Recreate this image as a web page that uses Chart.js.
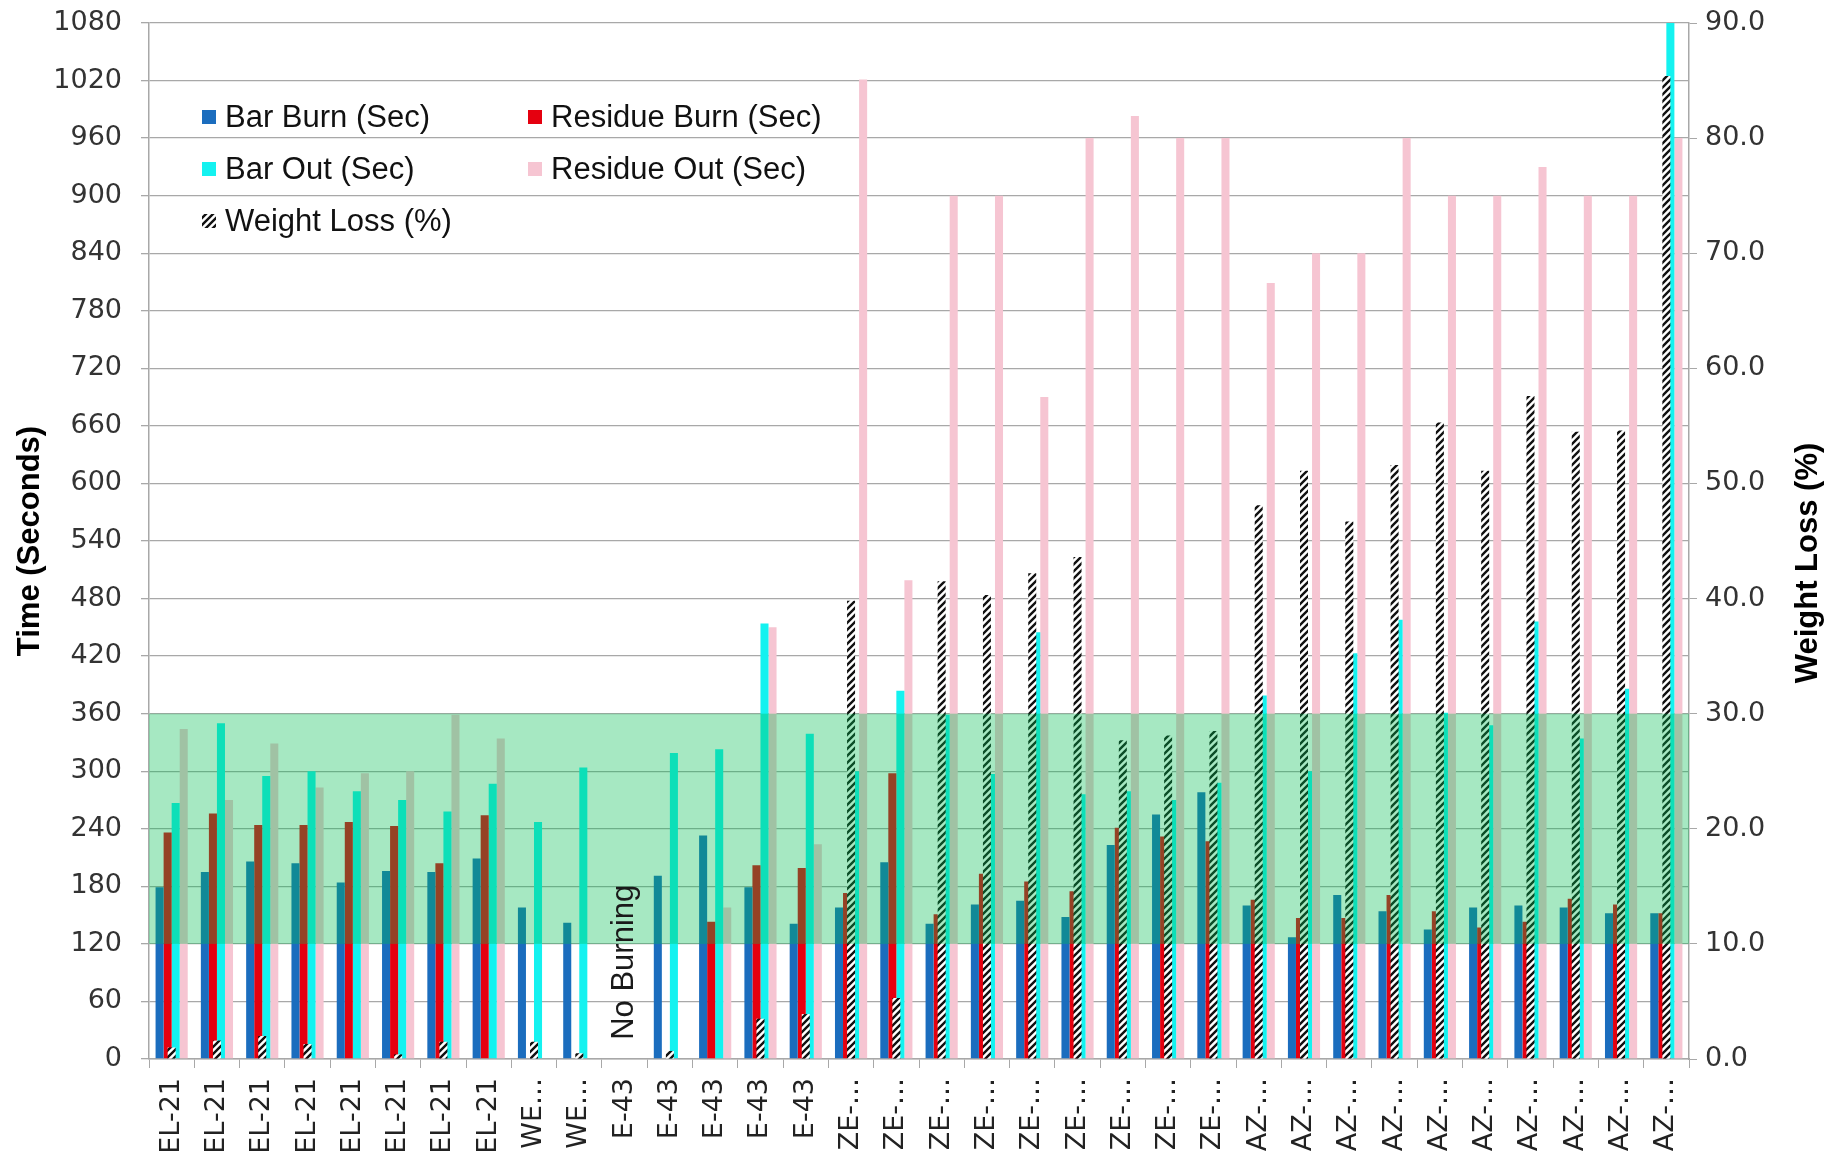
<!DOCTYPE html>
<html>
<head>
<meta charset="utf-8">
<title>Burn and weight loss test</title>
<script src="https://cdn.jsdelivr.net/npm/chart.js@4.4.1/dist/chart.umd.min.js"></script>
<style>
  html, body { margin: 0; padding: 0; background: #ffffff; }
  #wrap { width: 1841px; height: 1157px; }
</style>
</head>
<body>
<div id="wrap"><canvas id="chart" width="1841" height="1157"></canvas></div>
<script>
// Sample names along the category axis
const categories = [
  'EL-21', 'EL-21', 'EL-21', 'EL-21', 'EL-21', 'EL-21', 'EL-21', 'EL-21',
  'WE…', 'WE…',
  'E-43', 'E-43', 'E-43', 'E-43', 'E-43',
  'ZE-…', 'ZE-…', 'ZE-…', 'ZE-…', 'ZE-…', 'ZE-…', 'ZE-…', 'ZE-…', 'ZE-…',
  'AZ-…', 'AZ-…', 'AZ-…', 'AZ-…', 'AZ-…', 'AZ-…', 'AZ-…', 'AZ-…', 'AZ-…', 'AZ-…'
];

// Times in seconds (left axis)
const barBurn = [179, 195, 206, 204, 184, 196, 195, 209, 158, 142, null, 191, 233, 179, 141,
  158, 205, 141, 161, 165, 148, 223, 255, 278,
  160, 127, 171, 154, 135, 158, 160, 158, 152, 152];
const residueBurn = [236, 256, 244, 244, 247, 243, 204, 254, null, null, null, null, 143, 202, 199,
  173, 298, 151, 193, 185, 175, 241, 232, 227,
  166, 147, 147, 171, 154, 137, 143, 167, 161, 152];
const barOut = [267, 350, 295, 300, 279, 270, 258, 287, 247, 304, null, 319, 323, 454, 339,
  300, 384, 359, 297, 445, 276, 279, 270, 288,
  379, 300, 423, 458, 361, 348, 456, 334, 386, 1080];
const residueOut = [344, 270, 329, 283, 298, 300, 359, 334, null, null, null, null, 158, 450, 224,
  1021, 499, 900, 900, 690, 960, 983, 960, 960,
  809, 840, 840, 960, 900, 900, 930, 900, 900, 960];

// Weight loss in percent (right axis)
const weightLoss = [1.0, 1.6, 2.0, 1.3, 0, 0.4, 1.5, 0, 1.5, 0.5, null, 0.7, 0, 3.5, 3.9,
  39.8, 5.3, 41.5, 40.3, 42.2, 43.6, 27.7, 28.1, 28.5,
  48.1, 51.1, 46.7, 51.6, 55.3, 51.1, 57.6, 54.5, 54.6, 85.4];

// Axis ranges and tick steps
const timeAxis = { min: 0, max: 1080, step: 60 };
const lossAxis = { min: 0, max: 90, step: 10 };

// Acceptable time window shaded across the plot (seconds)
const bandLow = 120;
const bandHigh = 360;

// Note for the sample that did not ignite
const noteText = 'No Burning';
const noteIndex = 10;
const noteStart = 20;

const seriesNames = ['Bar Burn (Sec)', 'Residue Burn (Sec)', 'Bar Out (Sec)', 'Residue Out (Sec)', 'Weight Loss (%)'];

// Diagonal black/white hatch used for the weight-loss bars
function makeHatch() {
  const s = 7;
  const c = document.createElement('canvas');
  c.width = s; c.height = s;
  const g = c.getContext('2d');
  g.fillStyle = '#ffffff';
  g.fillRect(0, 0, s, s);
  g.strokeStyle = '#111111';
  g.lineWidth = 2.4;
  g.lineCap = 'square';
  g.beginPath();
  g.moveTo(-2, s + 2); g.lineTo(s + 2, -2);
  g.moveTo(-2, 2); g.lineTo(2, -2);
  g.moveTo(s - 2, s + 2); g.lineTo(s + 2, s - 2);
  g.stroke();
  return g.createPattern(c, 'repeat');
}
const hatch = makeHatch();

const colors = ['#1B6DBE', '#E5000F', '#14F2F0', '#F6C5D2', hatch];

const tickFont = { family: 'DejaVu Sans', size: 27 };
const titleFont = { family: 'Liberation Sans', size: 31, weight: 'bold' };

// Shaded time window drawn over the bars, plus the rotated note
const overlayPlugin = {
  id: 'overlay',
  afterDatasetsDraw(chart) {
    const { ctx, chartArea, scales } = chart;
    const y = scales.y;
    const top = y.getPixelForValue(bandHigh);
    const bottom = y.getPixelForValue(bandLow);
    ctx.save();
    ctx.fillStyle = 'rgba(0, 190, 80, 0.35)';
    ctx.fillRect(chartArea.left, top, chartArea.right - chartArea.left, bottom - top);

    const cx = scales.x.getPixelForValue(noteIndex);
    const cy = y.getPixelForValue(noteStart);
    ctx.translate(cx, cy);
    ctx.rotate(-Math.PI / 2);
    ctx.font = '31px "Liberation Sans"';
    ctx.fillStyle = '#1a1a1a';
    ctx.textAlign = 'left';
    ctx.textBaseline = 'middle';
    ctx.fillText(noteText, 0, 0);
    ctx.restore();
  }
};

// Two-column legend inside the plot, and the right-hand axis title
const legendPlugin = {
  id: 'gridLegend',
  afterDraw(chart) {
    const { ctx, chartArea } = chart;
    const x0 = chartArea.left + 53;
    const colGap = 326;
    const y0 = chartArea.top + 94;
    const rowGap = 52;
    const box = 14;
    ctx.save();
    ctx.font = '31px "Liberation Sans"';
    ctx.textBaseline = 'middle';
    ctx.textAlign = 'left';
    chart.data.datasets.forEach((ds, i) => {
      const col = i % 2;
      const row = Math.floor(i / 2);
      const bx = x0 + col * colGap;
      const by = y0 + row * rowGap;
      ctx.fillStyle = ds.backgroundColor;
      ctx.fillRect(bx, by - box / 2, box, box);
      ctx.fillStyle = '#111111';
      ctx.fillText(ds.label, bx + box + 9, by + 1);
    });

    // right axis title, reading bottom to top
    const y1 = chart.scales.y1;
    ctx.translate(1808, (y1.top + y1.bottom) / 2 + 22);
    ctx.rotate(-Math.PI / 2);
    ctx.font = 'bold 31px "Liberation Sans"';
    ctx.textAlign = 'center';
    ctx.fillStyle = '#000000';
    ctx.fillText('Weight Loss (%)', 0, 0);
    ctx.restore();
  }
};

const timeSeries = [barBurn, residueBurn, barOut, residueOut];
const datasets = timeSeries.map((values, i) => ({
  label: seriesNames[i],
  data: values,
  backgroundColor: colors[i],
  yAxisID: 'y',
  order: 1,
  categoryPercentage: 0.71,
  barPercentage: 1.0
}));
datasets.push({
  label: seriesNames[4],
  data: weightLoss,
  backgroundColor: colors[4],
  yAxisID: 'y1',
  grouped: false,
  order: 0,
  maxBarThickness: 8
});

const gridColor = '#A8A8A8';

new Chart(document.getElementById('chart'), {
  type: 'bar',
  data: { labels: categories, datasets },
  options: {
    responsive: false,
    animation: false,
    devicePixelRatio: 1,
    layout: { padding: { top: 23, left: 0, right: 0, bottom: 0 } },
    plugins: {
      legend: { display: false },
      tooltip: { enabled: false }
    },
    scales: {
      x: {
        grid: { display: true, drawOnChartArea: false, drawTicks: true, tickLength: 9, offset: true, color: gridColor },
        border: { display: true, color: gridColor, width: 1.5 },
        ticks: {
          autoSkip: false, minRotation: 90, maxRotation: 90, padding: 10,
          color: '#222222', font: { family: 'DejaVu Sans', size: 27 }
        },
        afterFit(scale) { scale.height = 98; scale.paddingLeft = 0; scale.paddingRight = 0; }
      },
      y: {
        position: 'left',
        min: timeAxis.min, max: timeAxis.max,
        grid: { color: gridColor, lineWidth: 1.3, tickLength: 8 },
        border: { display: true, color: gridColor, width: 1.5 },
        ticks: {
          stepSize: timeAxis.step, padding: 19, color: '#333333', font: tickFont,
          callback: (v) => String(v)
        },
        title: {
          display: true, text: 'Time (Seconds)', color: '#000000', font: titleFont,
          padding: { top: 12, bottom: 0 }
        },
        afterFit(scale) { scale.width = 149; scale.paddingTop = 0; scale.paddingBottom = 0; }
      },
      y1: {
        position: 'right',
        min: lossAxis.min, max: lossAxis.max,
        grid: { drawOnChartArea: false, color: gridColor, tickLength: 8 },
        border: { display: true, color: gridColor, width: 1.5 },
        ticks: {
          stepSize: lossAxis.step, padding: 8, color: '#333333', font: tickFont,
          callback: (v) => Number(v).toFixed(1)
        },
        afterFit(scale) { scale.width = 152; scale.paddingTop = 0; scale.paddingBottom = 0; }
      }
    }
  },
  plugins: [overlayPlugin, legendPlugin]
});
</script>
</body>
</html>
